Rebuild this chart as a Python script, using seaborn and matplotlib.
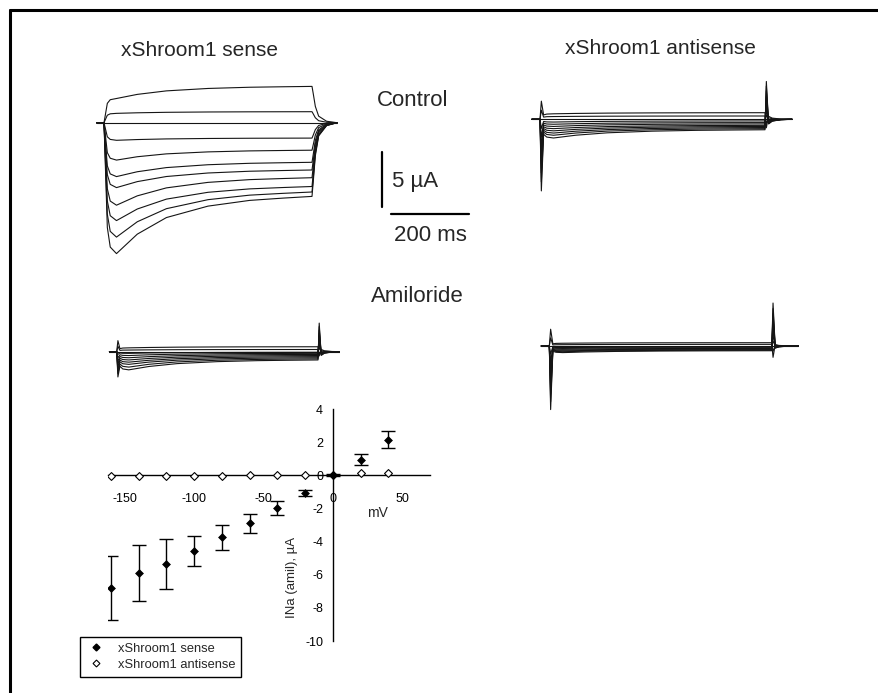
import numpy as np
import pandas as pd
import matplotlib
matplotlib.use("Agg")
import matplotlib.pyplot as plt
from matplotlib.lines import Line2D
import seaborn as sns

sns.set_style("white")
plt.rcParams['font.family'] = ['Liberation Sans', 'DejaVu Sans']

# ---------------- data ----------------
V_STEPS = [-160, -140, -120, -100, -80, -60, -40, -20, 0, 20, 40]

# normalised time course, ms
T_MS   = [-18, 0, 3, 8, 15, 30, 80, 150, 250, 350, 430, 500, 503, 508, 516, 535, 560]
ON_SH  = [0, 0, 1, 0, 0, 0, 0, 0, 0, 0, 0, 0, 0, 0, 0, 0, 0]
OFF_SH = [0, 0, 0, 0, 0, 0, 0, 0, 0, 0, 0, 0, 1, 0, 0, 0, 0]
ACT_SH = [0, 0, 0.3, 0.8, 0.95, 1, 1, 1, 1, 1, 1, 1, 0.8, 0.45, 0.18, 0.04, 0]
DEC_SH = [1, 1, 1, 1, 1, 1, 0.66, 0.37, 0.17, 0.07, 0.03, 0, 0, 0, 0, 0, 0]

# sense, control (uA)
SC_STEADY = [-6.7, -6.3, -5.8, -5.0, -4.3, -3.6, -2.5, -1.4, 0, 1.0, 3.3]
SC_PEAK   = [-11.9, -10.4, -8.9, -7.5, -5.9, -4.9, -3.4, -1.6, 0, 0.85, 2.2]
SC_ON     = [0] * 11
SC_OFF    = [0] * 11
# antisense, control
AC_STEADY = [-0.95, -0.85, -0.75, -0.65, -0.55, -0.42, -0.3, -0.15, 0, 0.3, 0.6]
AC_PEAK   = [-1.7, -1.45, -1.25, -1.05, -0.85, -0.65, -0.45, -0.25, 0, 0.25, 0.5]
AC_ON     = [-6.0, -5.25, -4.5, -3.75, -3.0, -2.25, -1.5, -0.75, 0, 0.75, 1.5]
AC_OFF    = [4.2, 3.7, 3.2, 2.6, 2.1, 1.6, 1.05, 0.5, 0, -0.6, -1.25]
# sense, amiloride
SA_STEADY = [-0.75, -0.65, -0.55, -0.45, -0.35, -0.25, -0.15, -0.05, 0, 0.2, 0.45]
SA_PEAK   = [-1.65, -1.4, -1.15, -0.95, -0.75, -0.55, -0.35, -0.15, 0, 0.15, 0.35]
SA_ON     = [-1.8, -1.55, -1.35, -1.1, -0.9, -0.7, -0.45, -0.2, 0, 0.45, 0.9]
SA_OFF    = [3.2, 2.8, 2.4, 2.0, 1.6, 1.2, 0.8, 0.4, 0, -0.4, -0.75]
# antisense, amiloride
AA_STEADY = [-0.43, -0.38, -0.33, -0.28, -0.22, -0.16, -0.1, -0.05, 0, 0.15, 0.3]
AA_PEAK   = [-0.6, -0.52, -0.45, -0.38, -0.3, -0.22, -0.14, -0.07, 0, 0.12, 0.25]
AA_ON     = [-5.6, -4.9, -4.2, -3.5, -2.8, -2.1, -1.4, -0.7, 0, 0.7, 1.45]
AA_OFF    = [4.25, 3.7, 3.2, 2.65, 2.1, 1.6, 1.05, 0.5, 0, -0.6, -1.27]

# I-V relation
IV_V      = [-160, -140, -120, -100, -80, -60, -40, -20, 0, 20, 40]
SENSE_I   = [-6.8, -5.9, -5.35, -4.55, -3.75, -2.9, -2.0, -1.05, 0.0, 0.95, 2.15]
SENSE_ERR = [1.95, 1.7, 1.5, 0.9, 0.73, 0.57, 0.42, 0.18, 0.05, 0.32, 0.52]
ANTI_I    = [-0.05, -0.05, -0.02, -0.03, -0.02, -0.01, -0.01, 0.02, 0.0, 0.12, 0.15]

X_TICKS = [-150, -100, -50, 0, 50]
Y_TICKS = [4, 2, 0, -2, -4, -6, -8, -10]

# ---------------- figure ----------------
W, H = 879, 693
fig = plt.figure(figsize=(W / 100, H / 100), dpi=100)
fig.patch.set_facecolor('white')


def box(L, T, R, B):
    return [L / W, 1 - B / H, (R - L) / W, (B - T) / H]


def trace_frame(steady, peak, on, off):
    rows = []
    for v, s, p, a, b in zip(V_STEPS, steady, peak, on, off):
        for t, o1, o2, ac, dc in zip(T_MS, ON_SH, OFF_SH, ACT_SH, DEC_SH):
            rows.append((v, t, o1 * a + o2 * b + ac * (s + (p - s) * dc)))
    return pd.DataFrame(rows, columns=['V', 't', 'I'])


def trace_panel(df, L, T, R, B, x0, x1, y0, sy=11.0):
    ax = fig.add_axes(box(L, T, R, B))
    sx = (x1 - x0) / 500.0
    sns.lineplot(data=df, x='t', y='I', units='V', estimator=None,
                 color='#151515', lw=0.8, ax=ax, legend=False, sort=False)
    ax.set_xlim((L - x0) / sx, (R - x0) / sx)
    ax.set_ylim((y0 - B) / sy, (y0 - T) / sy)
    ax.axis('off')
    return ax


trace_panel(trace_frame(SC_STEADY, SC_PEAK, SC_ON, SC_OFF), 90, 70, 345, 265, 104, 312, 122.7)
trace_panel(trace_frame(AC_STEADY, AC_PEAK, AC_ON, AC_OFF), 525, 60, 800, 195, 540, 765, 119.3)
trace_panel(trace_frame(SA_STEADY, SA_PEAK, SA_ON, SA_OFF), 105, 305, 340, 380, 116.7, 318, 351.7)
trace_panel(trace_frame(AA_STEADY, AA_PEAK, AA_ON, AA_OFF), 530, 290, 810, 415, 549.3, 771.7, 346)

# ---------------- I-V plot ----------------
ax = fig.add_axes(box(108, 409, 430, 641))
ax.set_facecolor('none')
ax.errorbar(IV_V, SENSE_I, yerr=SENSE_ERR, fmt='none', ecolor='black',
            elinewidth=1.0, capsize=5, capthick=1.0, zorder=2)
iv = pd.DataFrame({'V': IV_V, 'sense': SENSE_I, 'anti': ANTI_I})
sns.scatterplot(data=iv, x='V', y='anti', marker='D', s=16, facecolor='white',
                edgecolor='black', linewidth=0.8, ax=ax, zorder=3, legend=False)
sns.scatterplot(data=iv, x='V', y='sense', marker='D', s=16, color='black',
                edgecolor='black', linewidth=0.5, ax=ax, zorder=4, legend=False)
ax.set_xlim(-162, 70)
ax.set_ylim(-10, 4)
for side in ['top', 'right']:
    ax.spines[side].set_visible(False)
ax.spines['left'].set_position(('data', 0))
ax.spines['bottom'].set_position(('data', 0))
for side in ['left', 'bottom']:
    ax.spines[side].set_color('black')
    ax.spines[side].set_linewidth(1.0)
ax.set_xticks(X_TICKS)
ax.set_yticks(Y_TICKS)
ax.set_xticklabels([str(v) for v in X_TICKS])
ax.set_yticklabels([str(v) for v in Y_TICKS])
ax.tick_params(axis='x', direction='out', length=4, width=1, pad=9, labelsize=9, colors='black')
ax.tick_params(axis='y', direction='out', length=4, width=1, pad=3, labelsize=9, colors='black')
ax.set_xlabel('')
ax.set_ylabel('')
ax.grid(False)

fig.text(377 / W, 1 - 513 / H, 'mV', ha='center', va='center', fontsize=10)
fig.text(292 / W, 1 - 577 / H, 'INa (amil), µA', ha='center', va='center',
         rotation=90, fontsize=9.5)

handles = [Line2D([], [], ls='none', marker='D', ms=3.5, mfc='black', mec='black'),
           Line2D([], [], ls='none', marker='D', ms=3.5, mfc='white', mec='black', mew=0.8)]
leg = fig.legend(handles, ['xShroom1 sense', 'xShroom1 antisense'],
                 loc='upper left', bbox_to_anchor=(80 / W, 1 - 637 / H),
                 bbox_transform=fig.transFigure, borderaxespad=0, fancybox=False,
                 edgecolor='black', framealpha=1, fontsize=9.3, handletextpad=0.9,
                 borderpad=0.45, labelspacing=0.3, handlelength=1.6)
leg.get_frame().set_linewidth(1.0)

# ---------------- texts & scale bar ----------------
fig.text(200 / W, 1 - 50 / H, 'xShroom1 sense', ha='center', va='center', fontsize=15)
fig.text(660 / W, 1 - 48 / H, 'xShroom1 antisense', ha='center', va='center', fontsize=15)
fig.text(413 / W, 1 - 101 / H, 'Control', ha='center', va='center', fontsize=16)
fig.text(417 / W, 1 - 297 / H, 'Amiloride', ha='center', va='center', fontsize=16)
fig.text(392 / W, 1 - 181 / H, '5 µA', ha='left', va='center', fontsize=16)
fig.text(430 / W, 1 - 236 / H, '200 ms', ha='center', va='center', fontsize=16)

fig.add_artist(Line2D([382.3 / W] * 2, [1 - 151.7 / H, 1 - 206.7 / H],
                      transform=fig.transFigure, color='black', lw=1.6))
fig.add_artist(Line2D([390.7 / W, 469.3 / W], [1 - 214 / H] * 2,
                      transform=fig.transFigure, color='black', lw=1.6))

# outer frame (top and left edges visible)
fig.add_artist(Line2D([10 / W, 1], [1 - 10 / H] * 2, transform=fig.transFigure,
                      color='black', lw=2.2))
fig.add_artist(Line2D([10 / W] * 2, [1 - 10 / H, 0], transform=fig.transFigure,
                      color='black', lw=2.2))

fig.savefig('out.png', dpi=100, facecolor='white')
